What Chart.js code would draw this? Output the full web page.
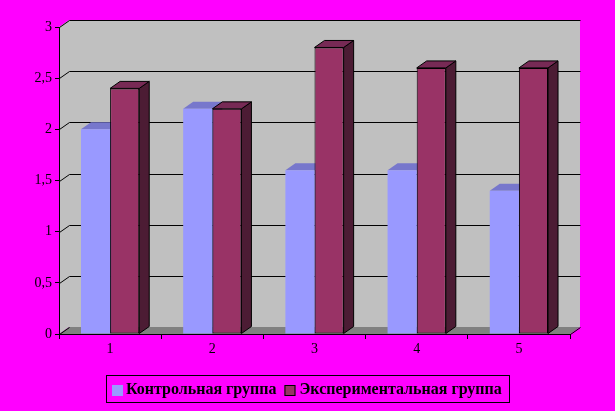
<!DOCTYPE html>
<html>
<head>
<meta charset="utf-8">
<script src="https://cdn.jsdelivr.net/npm/chart.js@4.4.0/dist/chart.umd.min.js"></script>
<style>
  html, body { margin: 0; padding: 0; background: #ff00ff; }
  #grafica { display: block; }
</style>
</head>
<body>
<canvas id="grafica" width="615" height="411"></canvas>
<script>
//---------------------Datos-----------------------
const categorias = ['1', '2', '3', '4', '5'];
const grupoControl = [2, 2.2, 1.6, 1.6, 1.4];
const grupoExperimental = [2.4, 2.2, 2.8, 2.6, 2.6];
const nombresSeries = ['Контрольная группа', 'Экспериментальная группа'];
const ejeYMin = 0, ejeYMax = 3, ejeYPaso = 0.5;

//---------------------Estilo 3D-----------------------
const PX = 10, PY = -7; // desplazamiento de profundidad
const colFrente = ['#9999ff', '#993366'];
const colTapa = ['#7777cc', '#772a55'];
const colLado = ['#4c4c80', '#4c1c34'];
const fuente = '"Liberation Serif", "Times New Roman", serif';

function poligono(ctx, pts, relleno, trazo) {
    ctx.beginPath();
    ctx.moveTo(pts[0][0], pts[0][1]);
    for (let k = 1; k < pts.length; k++) ctx.lineTo(pts[k][0], pts[k][1]);
    ctx.closePath();
    ctx.fillStyle = relleno;
    ctx.fill();
    if (trazo) { ctx.strokeStyle = trazo; ctx.lineWidth = 1; ctx.stroke(); }
}

// paredes, piso y lineas de cuadricula
const pluginParedes = {
    id: 'paredes',
    beforeDraw(chart) {
        const ctx = chart.ctx;
        const { left, right, top, bottom } = chart.chartArea;
        const yEsc = chart.scales.y;
        ctx.save();
        ctx.fillStyle = '#ff00ff';
        ctx.fillRect(0, 0, chart.width, chart.height);
        // pared del fondo y lateral
        poligono(ctx, [[left + PX, top + PY], [right + PX, top + PY], [right + PX, bottom + PY], [left + PX, bottom + PY]], '#c0c0c0');
        poligono(ctx, [[left, top], [left + PX, top + PY], [left + PX, bottom + PY], [left, bottom]], '#c0c0c0');
        // piso
        poligono(ctx, [[left, bottom], [right, bottom], [right + PX, bottom + PY], [left + PX, bottom + PY]], '#808080');
        ctx.strokeStyle = '#000';
        ctx.lineWidth = 1;
        ctx.beginPath();
        ctx.moveTo(right + 0.5, bottom + 0.5);
        ctx.lineTo(right + PX + 0.5, bottom + PY + 0.5);
        ctx.stroke();
        // cuadricula
        for (let v = ejeYMin; v <= ejeYMax + 1e-9; v += ejeYPaso) {
            const y = Math.round(yEsc.getPixelForValue(v)) + 0.5;
            ctx.beginPath();
            ctx.moveTo(left + 0.5, y);
            ctx.lineTo(left + PX + 0.5, y + PY);
            if (v > 0) ctx.lineTo(right + PX + 0.5, y + PY);
            ctx.stroke();
        }
        ctx.restore();
    }
};

// caras superior y lateral de cada barra
const pluginCaras = {
    id: 'caras',
    beforeDatasetsDraw(chart) {
        const ctx = chart.ctx;
        ctx.save();
        for (let j = 0; j < categorias.length; j++) {
            for (let i = 0; i < chart.data.datasets.length; i++) {
                const el = chart.getDatasetMeta(i).data[j];
                const { x, y, base, width } = el.getProps(['x', 'y', 'base', 'width'], true);
                const x0 = x - width / 2, x1 = x + width / 2;
                const trazo = i === 1 ? '#000' : null;
                poligono(ctx, [[x1, y], [x1 + PX, y + PY], [x1 + PX, base + PY], [x1, base]], colLado[i], trazo);
                poligono(ctx, [[x0, y], [x1, y], [x1 + PX, y + PY], [x0 + PX, y + PY]], colTapa[i], trazo);
            }
        }
        ctx.restore();
    }
};

// leyenda con marco
const pluginLeyenda = {
    id: 'leyendaMarco',
    afterDraw(chart) {
        const ctx = chart.ctx;
        ctx.save();
        ctx.font = 'bold 16px ' + fuente;
        const w1 = ctx.measureText(nombresSeries[0]).width;
        const w2 = ctx.measureText(nombresSeries[1]).width;
        const total = 6 + 11 + 3 + w1 + 8 + 11 + 4 + w2 + 7;
        const x0 = Math.round(307 - total / 2);
        const yTop = 375, alto = 27;
        ctx.strokeStyle = '#000';
        ctx.lineWidth = 1;
        ctx.strokeRect(x0 + 0.5, yTop + 0.5, Math.round(total), alto);
        let x = x0 + 6;
        ctx.fillStyle = colFrente[0];
        ctx.fillRect(x, 385, 11, 11);
        x += 11 + 3;
        ctx.fillStyle = '#000';
        ctx.textBaseline = 'middle';
        ctx.fillText(nombresSeries[0], x, 390);
        x += w1 + 8;
        ctx.fillStyle = colFrente[1];
        ctx.fillRect(x, 385, 11, 11);
        ctx.strokeRect(x + 0.5, 385.5, 10, 10);
        x += 11 + 4;
        ctx.fillStyle = '#000';
        ctx.fillText(nombresSeries[1], x, 390);
        ctx.restore();
    }
};

const ctxGraf = document.getElementById('grafica').getContext('2d');
const grafica = new Chart(ctxGraf, {
    type: 'bar',
    data: {
        labels: categorias,
        datasets: [{
            label: nombresSeries[0],
            data: grupoControl,
            backgroundColor: colFrente[0],
            borderWidth: 0
        }, {
            label: nombresSeries[1],
            data: grupoExperimental,
            backgroundColor: colFrente[1],
            borderColor: '#000',
            borderWidth: 1,
            borderSkipped: false
        }]
    },
    options: {
        responsive: false,
        animation: false,
        layout: { padding: { top: 27, right: 45, left: 0, bottom: 0 } },
        datasets: { bar: { categoryPercentage: 0.57, barPercentage: 1 } },
        plugins: { legend: { display: false }, tooltip: { enabled: false } },
        scales: {
            x: {
                grid: { drawOnChartArea: false, offset: true, tickLength: 5, color: '#000' },
                border: { color: '#000' },
                ticks: { color: '#000', font: { family: fuente, size: 14 }, padding: 2, maxRotation: 0 },
                afterFit(s) { s.height = 77; }
            },
            y: {
                min: ejeYMin,
                max: ejeYMax,
                grid: { drawOnChartArea: false, tickLength: 4, color: '#000' },
                border: { color: '#000' },
                ticks: {
                    stepSize: ejeYPaso,
                    color: '#000',
                    font: { family: fuente, size: 14 },
                    padding: 3,
                    callback: v => String(v).replace('.', ',')
                },
                afterFit(s) { s.width = 59; }
            }
        }
    },
    plugins: [pluginParedes, pluginCaras, pluginLeyenda]
});
</script>
</body>
</html>
